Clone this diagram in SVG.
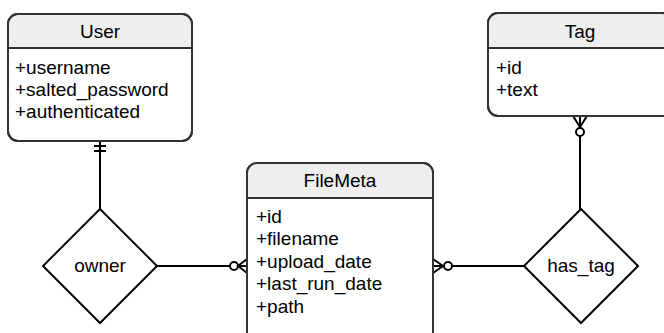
<svg xmlns="http://www.w3.org/2000/svg" width="664" height="333" viewBox="0 0 664 333">
<style>
.box{fill:#ffffff;stroke:#333333;stroke-width:2}
.hdr{fill:#eeeeee;stroke:none}
.sep{stroke:#333333;stroke-width:2}
.t{font-family:"Liberation Sans",Arial,sans-serif;font-size:19px;fill:#000}
.c{text-anchor:middle}
.rel{fill:#ffffff;stroke:#000;stroke-width:2}
.ln{fill:none;stroke:#000;stroke-width:2}
.dot{fill:#fff;stroke:#000;stroke-width:2}
</style>
<rect width="664" height="333" fill="#ffffff"/>
<g id="connectors">
  <path class="ln" d="M100 141 V209"/>
  <path class="ln" d="M94 146 H106 M94 151 H106"/>
  <path class="ln" d="M157 266 H230"/>
  <circle class="dot" cx="234" cy="266" r="4"/>
  <path class="ln" d="M247 259 L238 266 L247 273 M238 266 H247"/>
  <path class="ln" d="M452 266 H524"/>
  <circle class="dot" cx="448" cy="266" r="4"/>
  <path class="ln" d="M433 259 L443 266 L433 273 M433 266 H443"/>
  <path class="ln" d="M580 136 V209"/>
  <circle class="dot" cx="580" cy="132" r="4"/>
  <path class="ln" d="M573 116 L580 127 L587 116 M580 116 V127"/>
</g>
<g id="User">
  <rect class="box" x="8" y="14" width="184" height="127" rx="10"/>
  <path class="hdr" d="M18 15 H182 A9 9 0 0 1 191 24 V48 H9 V24 A9 9 0 0 1 18 15 Z"/>
  <line class="sep" x1="8" y1="48" x2="192" y2="48"/>
  <rect x="8" y="14" width="184" height="127" rx="10" fill="none" stroke="#333333" stroke-width="2"/>
  <text class="t c" x="100" y="38">User</text>
  <text class="t" x="15" y="74">+username</text>
  <text class="t" x="15" y="96">+salted_password</text>
  <text class="t" x="15" y="118">+authenticated</text>
</g>
<g id="Tag">
  <rect class="box" x="488" y="13" width="184" height="103" rx="10"/>
  <path class="hdr" d="M498 14 H662 A9 9 0 0 1 671 23 V48 H489 V23 A9 9 0 0 1 498 14 Z"/>
  <line class="sep" x1="488" y1="48" x2="672" y2="48"/>
  <rect x="488" y="13" width="184" height="103" rx="10" fill="none" stroke="#333333" stroke-width="2"/>
  <text class="t c" x="580" y="38">Tag</text>
  <text class="t" x="496" y="74">+id</text>
  <text class="t" x="496" y="96">+text</text>
</g>
<g id="FileMeta">
  <rect class="box" x="247" y="163" width="186" height="190" rx="10"/>
  <path class="hdr" d="M257 164 H423 A9 9 0 0 1 432 173 V198 H248 V173 A9 9 0 0 1 257 164 Z"/>
  <line class="sep" x1="247" y1="198" x2="433" y2="198"/>
  <rect x="247" y="163" width="186" height="190" rx="10" fill="none" stroke="#333333" stroke-width="2"/>
  <text class="t c" x="340" y="187">FileMeta</text>
  <text class="t" x="256" y="223">+id</text>
  <text class="t" x="256" y="245">+filename</text>
  <text class="t" x="256" y="268">+upload_date</text>
  <text class="t" x="256" y="290">+last_run_date</text>
  <text class="t" x="256" y="313">+path</text>
</g>
<g id="owner">
  <polygon class="rel" points="100,209 157,266 100,323 43,266"/>
  <text class="t c" x="100" y="272">owner</text>
</g>
<g id="has_tag">
  <polygon class="rel" points="581,209 638,266 581,323 524,266"/>
  <text class="t c" x="581" y="272">has_tag</text>
</g>
</svg>
